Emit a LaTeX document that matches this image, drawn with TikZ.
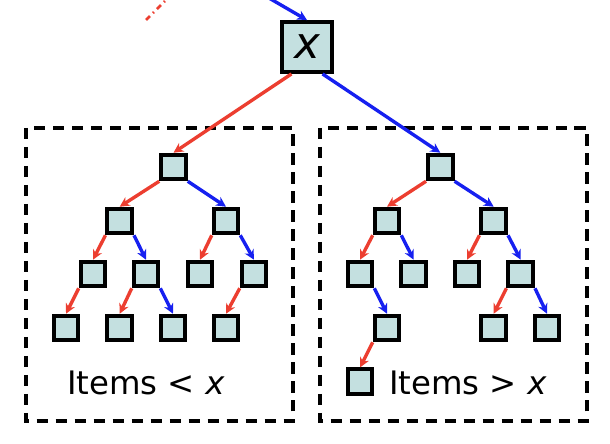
\documentclass[tikz,border=0pt]{standalone}
\usepackage{fontspec}
\setmainfont{DejaVu Sans}
\usepackage{tikz}
\usetikzlibrary{arrows, arrows.meta, positioning}
\definecolor{keyfill}{RGB}{196,224,224}
\definecolor{ltred}{RGB}{236,62,48}
\definecolor{gtblue}{RGB}{22,32,240}
\tikzstyle{keybox} = [rectangle, minimum size=17.5pt, inner sep=0pt, draw=black, line width=2.8pt, fill=keyfill]
\tikzstyle{rootbox} = [keybox, minimum size=35.5pt, font=\fontsize{31}{33}\selectfont\itshape]
\tikzstyle{ltarrow} = [line width=2.4pt,-{Stealth[length=7pt,width=7pt]}, draw=ltred]
\tikzstyle{gtarrow} = [line width=2.4pt,-{Stealth[length=7pt,width=7pt]}, draw=gtblue]
\tikzstyle{subtree} = [draw=black, line width=2.4pt, dash pattern=on 8pt off 5.5pt]
\tikzstyle{label} = [inner sep=0pt, font=\fontsize{23}{26}\selectfont]

\begin{document}
\begin{tikzpicture}[x=0.025cm, y=-0.025cm]
    \useasboundingbox (0,0) rectangle (610,444);

    % Regiones de los subarboles
    \draw [subtree] (26,128) rectangle (293,421);
    \draw [subtree] (320,128) rectangle (587,421);

    % Raiz
    \node (x) [rootbox] at (307,47) {x};
    \coordinate (up) at (262,-6);
    \coordinate (dotsa) at (146,20);
    \coordinate (dotsb) at (168,-2);
    \draw [gtarrow] (up) -- (x.north);
    \draw [ltred, line width=1.8pt, dash pattern=on 4pt off 3pt on 1pt off 3pt] (dotsa) -- (dotsb);

    % Subarbol izquierdo
    \node (l) [keybox] at (173.5,167) {};
    \node (la) [keybox] at (119.7,221) {};
    \node (lb) [keybox] at (226,221) {};
    \node (laa) [keybox] at (93,274) {};
    \node (lab) [keybox] at (146,274) {};
    \node (lba) [keybox] at (200,274) {};
    \node (lbb) [keybox] at (254,274) {};
    \node (laaa) [keybox] at (66,328) {};
    \node (laba) [keybox] at (119.7,328) {};
    \node (labb) [keybox] at (173,328) {};
    \node (lbba) [keybox] at (226,328) {};
    \node (ltext) [label] at (146,383) {Items < \textit{x}};

    % Subarbol derecho
    \node (r) [keybox] at (440.3,167) {};
    \node (ra) [keybox] at (387,221) {};
    \node (rb) [keybox] at (493.7,221) {};
    \node (raa) [keybox] at (360,274) {};
    \node (rab) [keybox] at (413.7,274) {};
    \node (rba) [keybox] at (467,274) {};
    \node (rbb) [keybox] at (520.7,274) {};
    \node (raab) [keybox] at (387,328) {};
    \node (rbba) [keybox] at (493.7,328) {};
    \node (rbbb) [keybox] at (547,328) {};
    \node (raaba) [keybox] at (360,381.7) {};
    \node (rtext) [label] at (468,383) {Items > \textit{x}};

    % Flechas
    \draw [ltarrow] (x.240) -- (l.north);
    \draw [gtarrow] (x.300) -- (r.north);

    \draw [ltarrow] (l.south west) -- (la.north);
    \draw [gtarrow] (l.south east) -- (lb.north);
    \draw [ltarrow] (la.south west) -- (laa.north);
    \draw [gtarrow] (la.south east) -- (lab.north);
    \draw [ltarrow] (lb.south west) -- (lba.north);
    \draw [gtarrow] (lb.south east) -- (lbb.north);
    \draw [ltarrow] (laa.south west) -- (laaa.north);
    \draw [ltarrow] (lab.south west) -- (laba.north);
    \draw [gtarrow] (lab.south east) -- (labb.north);
    \draw [ltarrow] (lbb.south west) -- (lbba.north);

    \draw [ltarrow] (r.south west) -- (ra.north);
    \draw [gtarrow] (r.south east) -- (rb.north);
    \draw [ltarrow] (ra.south west) -- (raa.north);
    \draw [gtarrow] (ra.south east) -- (rab.north);
    \draw [ltarrow] (rb.south west) -- (rba.north);
    \draw [gtarrow] (rb.south east) -- (rbb.north);
    \draw [gtarrow] (raa.south east) -- (raab.north);
    \draw [ltarrow] (raab.south west) -- (raaba.north);
    \draw [ltarrow] (rbb.south west) -- (rbba.north);
    \draw [gtarrow] (rbb.south east) -- (rbbb.north);
\end{tikzpicture}
\end{document}
